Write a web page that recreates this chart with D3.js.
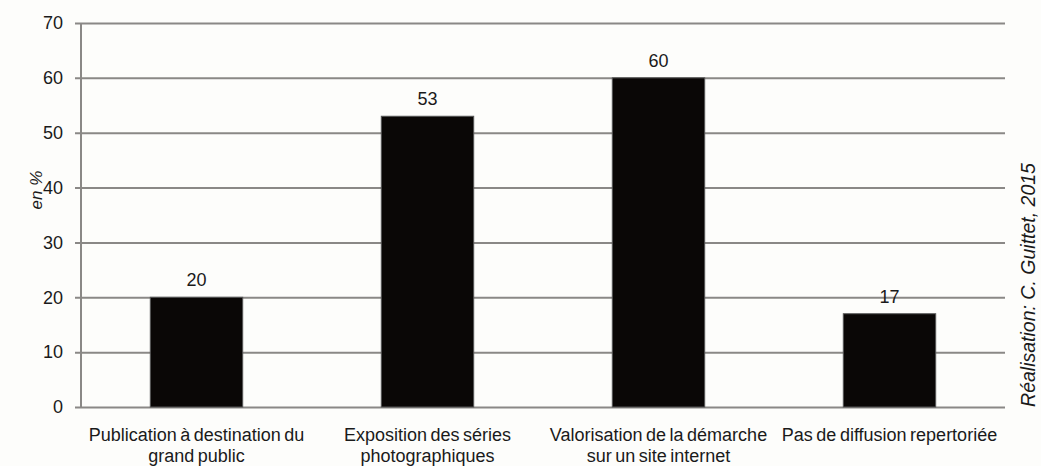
<!DOCTYPE html>
<html>
<head>
<meta charset="utf-8">
<script src="https://cdn.jsdelivr.net/npm/d3@7"></script>
<style>
  html, body { margin: 0; padding: 0; background: #fdfdfb; }
  svg { display: block; font-family: "Liberation Sans", Arial, sans-serif; }
</style>
</head>
<body>
<svg id="chart" width="1041" height="466"></svg>
<script>
// Diffusion des séries photographiques (en %)
const categories = [
  ["Publication à destination du", "grand public"],
  ["Exposition des séries", "photographiques"],
  ["Valorisation de la démarche", "sur un site internet"],
  ["Pas de diffusion repertoriée"]
];
const values = [20, 53, 60, 17];
const yTicks = [0, 10, 20, 30, 40, 50, 60, 70];
const yTitle = "en %";
const credit = "Réalisation: C. Guittet, 2015";

const svg = d3.select("#chart");
const margin = { left: 81, right: 36, top: 23, bottom: 59 };
const W = 1041, H = 466;
const textColor = "#1a1a1a";
const gridColor = "#8a8886";

const x = d3.scaleBand()
  .domain(d3.range(values.length))
  .range([margin.left, W - margin.right])
  .paddingInner(0.6)
  .paddingOuter(0.3);

const y = d3.scaleLinear()
  .domain([0, 70])
  .range([H - margin.bottom, margin.top]);

// horizontal gridlines with short stubs left of the axis
const yAxis = d3.axisLeft(y)
  .tickValues(yTicks)
  .tickSize(0)
  .tickFormat(d3.format("d"));

const gy = svg.append("g")
  .attr("transform", `translate(${margin.left - 6},0)`)
  .call(yAxis);
gy.select(".domain").remove();
gy.selectAll(".tick line")
  .attr("x1", 0)
  .attr("x2", W - margin.right - margin.left + 6)
  .attr("stroke", gridColor)
  .attr("stroke-width", 2);
gy.selectAll(".tick text")
  .attr("x", -12)
  .attr("fill", textColor)
  .attr("font-size", 18);

// vertical axis line
svg.append("line")
  .attr("x1", margin.left).attr("x2", margin.left)
  .attr("y1", y(70)).attr("y2", y(0))
  .attr("stroke", gridColor)
  .attr("stroke-width", 2);

// bars
svg.append("g").selectAll("rect")
  .data(values)
  .join("rect")
  .attr("x", (d, i) => x(i))
  .attr("width", x.bandwidth())
  .attr("y", d => y(d))
  .attr("height", d => y(0) - y(d))
  .attr("fill", "#0a0706")
  .attr("stroke", "#555")
  .attr("stroke-width", 1);

// value labels
svg.append("g").selectAll("text")
  .data(values)
  .join("text")
  .attr("x", (d, i) => x(i) + x.bandwidth() / 2)
  .attr("y", d => y(d) - 11)
  .attr("text-anchor", "middle")
  .attr("font-size", 18)
  .attr("fill", textColor)
  .text(d => d);

// category labels
const cat = svg.append("g").selectAll("text")
  .data(categories)
  .join("text")
  .attr("x", (d, i) => x(i) + x.bandwidth() / 2)
  .attr("y", y(0) + 34)
  .attr("text-anchor", "middle")
  .attr("font-size", 18)
  .attr("word-spacing", -1.5)
  .attr("fill", textColor);
cat.selectAll("tspan")
  .data(d => d)
  .join("tspan")
  .attr("x", function () { return d3.select(this.parentNode).attr("x"); })
  .attr("dy", (d, i) => i === 0 ? 0 : 20.5)
  .text(d => d);

// y-axis title
svg.append("text")
  .attr("transform", "translate(42,190) rotate(-90)")
  .attr("text-anchor", "middle")
  .attr("font-size", 17)
  .attr("font-style", "italic")
  .attr("fill", textColor)
  .text(yTitle);

// credit line on the right
svg.append("text")
  .attr("transform", "translate(1035,285) rotate(-90)")
  .attr("text-anchor", "middle")
  .attr("font-size", 19.5)
  .attr("font-style", "italic")
  .attr("fill", textColor)
  .text(credit);
</script>
</body>
</html>
